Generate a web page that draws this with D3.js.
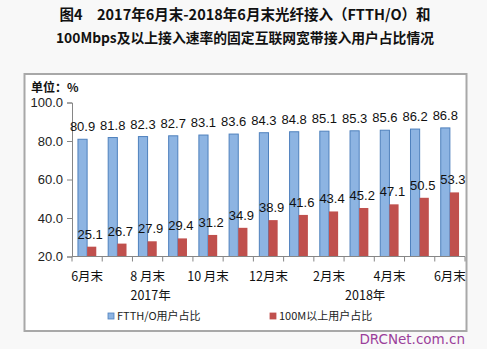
<!DOCTYPE html>
<html><head><meta charset="utf-8">
<script src="https://cdn.jsdelivr.net/npm/d3@7"></script>
<style>html,body{margin:0;padding:0;background:#f8f8f8;}svg{display:block;}</style>
</head><body>
<script>
const categories = ["6月末","7月末","8 月末","9月末","10 月末","11月末","12月末","1月末","2月末","3月末","4月末","5月末","6月末"];
const shownLabels = [true,false,true,false,true,false,true,false,true,false,true,false,true];
const ftth = [80.9,81.8,82.3,82.7,83.1,83.6,84.3,84.8,85.1,85.3,85.6,86.2,86.8];
const m100 = [25.1,26.7,27.9,29.4,31.2,34.9,38.9,41.6,43.4,45.2,47.1,50.5,53.3];
const yTicks = [20,40,60,80,100];
const years = [{label:"2017年", at:2.1},{label:"2018年", at:9.2}];
const seriesNames = ["FTTH/O用户占比","100M以上用户占比"];
const titleLines = ["图4　2017年6月末-2018年6月末光纤接入（FTTH/O）和","100Mbps及以上接入速率的固定互联网宽带接入用户占比情况"];

const W=487,H=349;
const svg=d3.select("body").append("svg").attr("width",W).attr("height",H);
svg.append("rect").attr("width",W).attr("height",H).attr("fill","#f8f8f8");

// title
svg.selectAll("text.title").data(titleLines).join("text")
  .attr("x",245).attr("y",(d,i)=>20+i*22.5).attr("text-anchor","middle")
  .attr("font-family","'Noto Sans CJK SC'").attr("font-weight","bold").attr("font-size",(d,i)=>i?13.8:14.5)
  .attr("fill","#111").text(d=>d);

// frame
svg.append("rect").attr("x",24.5).attr("y",74).attr("width",442).attr("height",257)
  .attr("fill","#fff").attr("stroke","#a8a8a8").attr("stroke-width",2);

svg.append("text").attr("x",31).attr("y",92).attr("font-family","'Noto Sans CJK SC'")
  .attr("font-weight","bold").attr("font-size",12).attr("fill","#111").text("单位：%");

const y=d3.scaleLinear().domain([20,100]).range([256.5,102.5]);
const x=d3.scaleBand().domain(d3.range(categories.length)).range([72,465]).padding(0);
const xs=d3.scaleBand().domain([0,1]).range([0,x.bandwidth()]).paddingInner(0).paddingOuter(0.65);

// y axis
const ya=svg.append("g").attr("transform","translate(72,0)")
  .call(d3.axisLeft(y).tickValues(yTicks).tickFormat(d3.format(".1f")).tickSizeOuter(0).tickSize(5));
ya.select(".domain").attr("stroke","#868686");
ya.selectAll(".tick line").attr("stroke","#868686");
ya.selectAll(".tick text").attr("font-family","'Liberation Sans'").attr("font-size",13).attr("fill","#222").attr("x",-9);

// bars
const g=svg.append("g");
g.selectAll("rect.b").data(ftth).join("rect")
  .attr("x",(d,i)=>x(i)+xs(0)).attr("width",xs.bandwidth())
  .attr("y",d=>y(d)).attr("height",d=>y(20)-y(d))
  .attr("fill","#8db4e2").attr("stroke","#4f81bd").attr("stroke-width",1);
g.selectAll("rect.r").data(m100).join("rect")
  .attr("x",(d,i)=>x(i)+xs(1)).attr("width",xs.bandwidth())
  .attr("y",d=>y(d)).attr("height",d=>y(20)-y(d))
  .attr("fill","#c0504d");

// x axis
const xa=svg.append("g").attr("transform","translate(0,256.5)");
xa.append("line").attr("x1",72).attr("x2",465).attr("stroke","#868686");
xa.selectAll("line.t").data(d3.range(categories.length+1)).join("line")
  .attr("x1",i=>72+i*x.step()).attr("x2",i=>72+i*x.step()).attr("y1",0).attr("y2",5).attr("stroke","#868686");

// value labels
g.selectAll("text.bl").data(ftth).join("text")
  .attr("x",(d,i)=>x(i)+xs(0)+xs.bandwidth()/2).attr("y",d=>y(d)-8)
  .attr("text-anchor","middle").attr("font-family","'Liberation Sans'").attr("font-size",13).attr("fill","#111")
  .text(d=>d.toFixed(1));
g.selectAll("text.rl").data(m100).join("text")
  .attr("x",(d,i)=>x(i)+xs(1)+xs.bandwidth()/2-1.5).attr("y",d=>y(d)-8)
  .attr("text-anchor","middle").attr("font-family","'Liberation Sans'").attr("font-size",13).attr("fill","#111")
  .text(d=>d.toFixed(1));

// category labels
svg.selectAll("text.cat").data(categories).join("text")
  .attr("x",(d,i)=>x(i)+x.bandwidth()/2).attr("y",281)
  .attr("text-anchor","middle").attr("font-family","'Noto Sans CJK SC'").attr("font-size",12.5).attr("fill","#111")
  .text((d,i)=>shownLabels[i]?d:"");
svg.selectAll("text.yr").data(years).join("text")
  .attr("x",d=>x(0)+x.step()*(d.at+0.5)).attr("y",299.5)
  .attr("text-anchor","middle").attr("font-family","'Noto Sans CJK SC'").attr("font-size",12.5).attr("fill","#111")
  .text(d=>d.label);

// legend
const leg=[{x:108,c:"#8db4e2",s:"#4f81bd"},{x:270,c:"#c0504d",s:"#c0504d"}];
leg.forEach((l,i)=>{
  svg.append("rect").attr("x",l.x).attr("y",313).attr("width",6).attr("height",6).attr("fill",l.c).attr("stroke",l.s).attr("stroke-width",0.8);
  svg.append("text").attr("x",l.x+9).attr("y",320).attr("font-family","'Noto Sans CJK SC'").attr("font-size",11).attr("fill","#222").text(seriesNames[i]);
});

// watermark
svg.append("text").attr("x",465).attr("y",344).attr("text-anchor","end").attr("font-family","'DejaVu Sans'")
  .attr("font-size",13.5).attr("fill","#9b3f9b").text("DRCNet.com.cn");
</script>
</body></html>
